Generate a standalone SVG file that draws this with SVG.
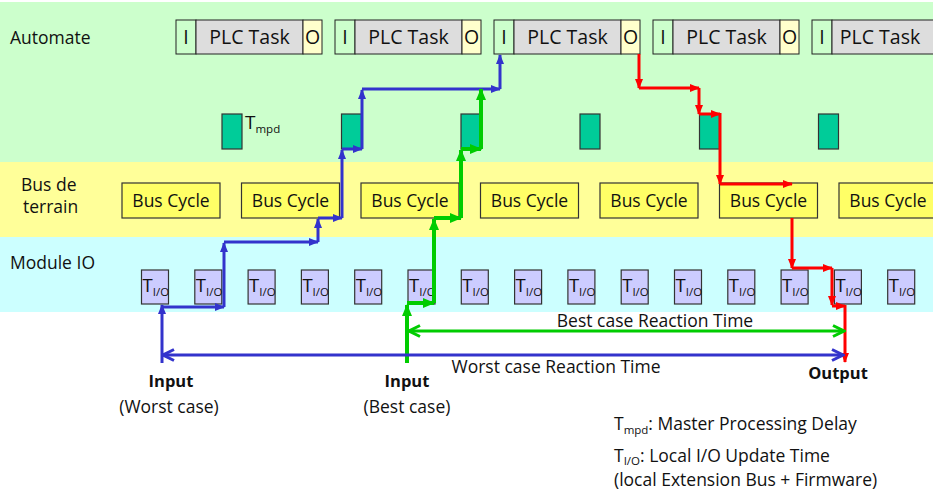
<svg xmlns="http://www.w3.org/2000/svg" width="933" height="492" viewBox="0 0 933 492">
<style>
text{font-family:"Open Sans","DejaVu Sans",sans-serif;fill:#111}
.lbl{font-size:17.5px}
.plc{font-size:19.5px;text-anchor:middle}
.bus{font-size:17.5px;text-anchor:middle}
.ti{font-size:18.5px}
.sub{font-size:11.5px}
.bold{font-size:16.5px;font-weight:bold;text-anchor:middle}
.mid{text-anchor:middle}
.cI{fill:#CCFFCC;stroke:#222;stroke-width:1}
.cT{fill:#DDDDDD;stroke:#222;stroke-width:1}
.cO{fill:#FFFFCC;stroke:#222;stroke-width:1}
.mpd{fill:#00CC99;stroke:#333;stroke-width:1.2}
.bc{fill:#FFFF66;stroke:#333;stroke-width:1.2}
.tio{fill:#CCCCFF;stroke:#333;stroke-width:1.2}
.b{stroke:#3333CC;stroke-width:3;fill:none;marker-end:url(#ab)}
.g{stroke:#00CC00;stroke-width:4;fill:none;marker-end:url(#ag)}
.r{stroke:#FF0000;stroke-width:3;fill:none;marker-end:url(#ar)}
</style>
<defs>
<marker id="ab" markerUnits="userSpaceOnUse" viewBox="0 0 10 8" markerWidth="10" markerHeight="8" refX="9" refY="4" orient="auto"><path d="M0,0 L10,4 L0,8 z" fill="#3333CC"/></marker>
<marker id="ag" markerUnits="userSpaceOnUse" viewBox="0 0 12 10" markerWidth="12" markerHeight="10" refX="11" refY="5" orient="auto"><path d="M0,0 L12,5 L0,10 z" fill="#00CC00"/></marker>
<marker id="ar" markerUnits="userSpaceOnUse" viewBox="0 0 10 8" markerWidth="10" markerHeight="8" refX="9" refY="4" orient="auto"><path d="M0,0 L10,4 L0,8 z" fill="#FF0000"/></marker>
<marker id="cb" markerUnits="userSpaceOnUse" viewBox="0 0 14 14" markerWidth="14" markerHeight="14" refX="12" refY="7" orient="auto-start-reverse"><path d="M1,1.5 L12,7 L1,12.5" fill="none" stroke="#3333CC" stroke-width="3"/></marker>
<marker id="cg" markerUnits="userSpaceOnUse" viewBox="0 0 14 14" markerWidth="14" markerHeight="14" refX="12" refY="7" orient="auto-start-reverse"><path d="M1,1.5 L12,7 L1,12.5" fill="none" stroke="#00CC00" stroke-width="3"/></marker>
</defs>

<g id="bands">
<rect x="0" y="2" width="933" height="160" fill="#CCFFCC"/>
<rect x="0" y="162" width="933" height="75" fill="#FFFF99"/>
<rect x="0" y="237" width="933" height="75" fill="#CCFFFF"/>
</g>

<g id="lane-labels" class="lbl">
<text x="10" y="44">Automate</text>
<text x="21" y="191">Bus de</text>
<text x="23" y="213">terrain</text>
<text x="10" y="269">Module IO</text>
</g>

<g id="plc1"><rect class="cI" x="176" y="20" width="20" height="34"/><rect class="cT" x="196" y="20" width="107" height="34"/><rect class="cO" x="303" y="20" width="19" height="34"/><text class="plc" x="186" y="44">I</text><text class="plc" x="249.5" y="44">PLC Task</text><text class="plc" x="312.5" y="44">O</text></g>
<g id="plc2"><rect class="cI" x="335" y="20" width="20" height="34"/><rect class="cT" x="355" y="20" width="107" height="34"/><rect class="cO" x="462" y="20" width="19" height="34"/><text class="plc" x="345" y="44">I</text><text class="plc" x="408.5" y="44">PLC Task</text><text class="plc" x="471.5" y="44">O</text></g>
<g id="plc3"><rect class="cI" x="494" y="20" width="20" height="34"/><rect class="cT" x="514" y="20" width="107" height="34"/><rect class="cO" x="621" y="20" width="19" height="34"/><text class="plc" x="504" y="44">I</text><text class="plc" x="567.5" y="44">PLC Task</text><text class="plc" x="630.5" y="44">O</text></g>
<g id="plc4"><rect class="cI" x="653" y="20" width="20" height="34"/><rect class="cT" x="673" y="20" width="107" height="34"/><rect class="cO" x="780" y="20" width="19" height="34"/><text class="plc" x="663" y="44">I</text><text class="plc" x="726.5" y="44">PLC Task</text><text class="plc" x="789.5" y="44">O</text></g>
<g id="plc5"><rect class="cI" x="812" y="20" width="20" height="34"/><rect class="cT" x="832" y="20" width="107" height="34"/><text class="plc" x="822" y="44">I</text><text class="plc" x="880" y="44">PLC Task</text></g>

<g id="tmpd1"><rect class="mpd" x="222" y="114" width="20" height="35"/><text x="245" y="129" style="font-size:19px">T<tspan class="sub" dy="4">mpd</tspan></text></g>
<g id="tmpd2"><rect class="mpd" x="341.5" y="114" width="20" height="35"/></g>
<g id="tmpd3"><rect class="mpd" x="461" y="114" width="20" height="35"/></g>
<g id="tmpd4"><rect class="mpd" x="580" y="114" width="20" height="35"/></g>
<g id="tmpd5"><rect class="mpd" x="699.5" y="114" width="20" height="35"/></g>
<g id="tmpd6"><rect class="mpd" x="818.5" y="114" width="20" height="35"/></g>

<g id="bus1"><rect class="bc" x="122" y="183" width="98" height="35"/><text class="bus" x="171" y="207">Bus Cycle</text></g>
<g id="bus2"><rect class="bc" x="241.5" y="183" width="98" height="35"/><text class="bus" x="290.5" y="207">Bus Cycle</text></g>
<g id="bus3"><rect class="bc" x="361" y="183" width="98" height="35"/><text class="bus" x="410" y="207">Bus Cycle</text></g>
<g id="bus4"><rect class="bc" x="480.5" y="183" width="98" height="35"/><text class="bus" x="529.5" y="207">Bus Cycle</text></g>
<g id="bus5"><rect class="bc" x="600" y="183" width="98" height="35"/><text class="bus" x="649" y="207">Bus Cycle</text></g>
<g id="bus6"><rect class="bc" x="719.5" y="183" width="98" height="35"/><text class="bus" x="768.5" y="207">Bus Cycle</text></g>
<g id="bus7"><rect class="bc" x="839" y="183" width="98" height="35"/><text class="bus" x="888" y="207">Bus Cycle</text></g>

<g id="tio1"><rect class="tio" x="141.5" y="270" width="27" height="34"/><text class="ti" x="142.5" y="292">T<tspan class="sub" dy="4">I/O</tspan></text></g>
<g id="tio2"><rect class="tio" x="194.8" y="270" width="27" height="34"/><text class="ti" x="195.8" y="292">T<tspan class="sub" dy="4">I/O</tspan></text></g>
<g id="tio3"><rect class="tio" x="248.1" y="270" width="27" height="34"/><text class="ti" x="249.1" y="292">T<tspan class="sub" dy="4">I/O</tspan></text></g>
<g id="tio4"><rect class="tio" x="301.4" y="270" width="27" height="34"/><text class="ti" x="302.4" y="292">T<tspan class="sub" dy="4">I/O</tspan></text></g>
<g id="tio5"><rect class="tio" x="354.7" y="270" width="27" height="34"/><text class="ti" x="355.7" y="292">T<tspan class="sub" dy="4">I/O</tspan></text></g>
<g id="tio6"><rect class="tio" x="408" y="270" width="27" height="34"/><text class="ti" x="409" y="292">T<tspan class="sub" dy="4">I/O</tspan></text></g>
<g id="tio7"><rect class="tio" x="461.3" y="270" width="27" height="34"/><text class="ti" x="462.3" y="292">T<tspan class="sub" dy="4">I/O</tspan></text></g>
<g id="tio8"><rect class="tio" x="514.6" y="270" width="27" height="34"/><text class="ti" x="515.6" y="292">T<tspan class="sub" dy="4">I/O</tspan></text></g>
<g id="tio9"><rect class="tio" x="567.9" y="270" width="27" height="34"/><text class="ti" x="568.9" y="292">T<tspan class="sub" dy="4">I/O</tspan></text></g>
<g id="tio10"><rect class="tio" x="621.2" y="270" width="27" height="34"/><text class="ti" x="622.2" y="292">T<tspan class="sub" dy="4">I/O</tspan></text></g>
<g id="tio11"><rect class="tio" x="674.5" y="270" width="27" height="34"/><text class="ti" x="675.5" y="292">T<tspan class="sub" dy="4">I/O</tspan></text></g>
<g id="tio12"><rect class="tio" x="727.8" y="270" width="27" height="34"/><text class="ti" x="728.8" y="292">T<tspan class="sub" dy="4">I/O</tspan></text></g>
<g id="tio13"><rect class="tio" x="781.1" y="270" width="27" height="34"/><text class="ti" x="782.1" y="292">T<tspan class="sub" dy="4">I/O</tspan></text></g>
<g id="tio14"><rect class="tio" x="834.4" y="270" width="27" height="34"/><text class="ti" x="835.4" y="292">T<tspan class="sub" dy="4">I/O</tspan></text></g>
<g id="tio15"><rect class="tio" x="887.7" y="270" width="27" height="34"/><text class="ti" x="888.7" y="292">T<tspan class="sub" dy="4">I/O</tspan></text></g>

<g id="connectors">
<g id="worst-path">
<line class="b" x1="162" y1="363" x2="162" y2="305"/>
<line class="b" x1="162" y1="307" x2="224" y2="307"/>
<line class="b" x1="224" y1="307" x2="224" y2="243"/>
<line class="b" x1="224" y1="242" x2="318" y2="242"/>
<line class="b" x1="318" y1="242" x2="318" y2="219"/>
<line class="b" x1="318" y1="218" x2="342" y2="218"/>
<line class="b" x1="342" y1="218" x2="342" y2="150"/>
<line class="b" x1="342" y1="149" x2="362" y2="149"/>
<line class="b" x1="362" y1="149" x2="362" y2="90"/>
<line class="b" x1="362" y1="89" x2="500" y2="89"/>
<line class="b" x1="500" y1="89" x2="500" y2="55"/>
</g>
<g id="best-path">
<line class="g" x1="407" y1="363" x2="407" y2="305"/>
<line class="g" x1="407" y1="303" x2="434" y2="303"/>
<line class="g" x1="434" y1="303" x2="434" y2="219"/>
<line class="g" x1="434" y1="218" x2="461" y2="218"/>
<line class="g" x1="461" y1="218" x2="461" y2="150"/>
<line class="g" x1="461" y1="149" x2="481" y2="149"/>
<line class="g" x1="481" y1="149" x2="481" y2="89"/>
</g>
<g id="output-path">
<line class="r" x1="639" y1="54" x2="639" y2="88"/>
<line class="r" x1="639" y1="88" x2="699" y2="88"/>
<line class="r" x1="699" y1="88" x2="699" y2="114"/>
<line class="r" x1="699" y1="114" x2="720" y2="114"/>
<line class="r" x1="720" y1="113" x2="720" y2="184"/>
<line class="r" x1="720" y1="184" x2="792" y2="184"/>
<line class="r" x1="792" y1="218" x2="792" y2="268"/>
<line class="r" x1="792" y1="268" x2="832" y2="268"/>
<line class="r" x1="832" y1="268" x2="832" y2="305"/>
<line class="r" x1="832" y1="306" x2="845" y2="306"/>
<line class="r" x1="845" y1="305" x2="845" y2="362"/>
</g>
<line id="best-time" x1="409" y1="331" x2="844" y2="331" stroke="#00CC00" stroke-width="3" marker-start="url(#cg)" marker-end="url(#cg)"/>
<line id="worst-time" x1="163" y1="355" x2="843" y2="355" stroke="#3333CC" stroke-width="3" marker-start="url(#cb)" marker-end="url(#cb)"/>
</g>

<g id="labels">
<text class="lbl mid" x="655" y="327">Best case Reaction Time</text>
<text class="lbl mid" x="556" y="373">Worst case Reaction Time</text>
<text class="bold" x="171" y="387">Input</text>
<text class="lbl mid" x="169" y="413">(Worst case)</text>
<text class="bold" x="407" y="387">Input</text>
<text class="lbl mid" x="407" y="413">(Best case)</text>
<text class="bold" x="838" y="379">Output</text>
</g>

<g id="legend" class="lbl">
<text x="614" y="430">T<tspan class="sub" dy="4">mpd</tspan><tspan dy="-4">: Master Processing Delay</tspan></text>
<text x="614" y="462">T<tspan class="sub" dy="3">I/O</tspan><tspan dy="-3">: Local I/O Update Time</tspan></text>
<text x="614" y="486">(local Extension Bus + Firmware)</text>
</g>
</svg>
